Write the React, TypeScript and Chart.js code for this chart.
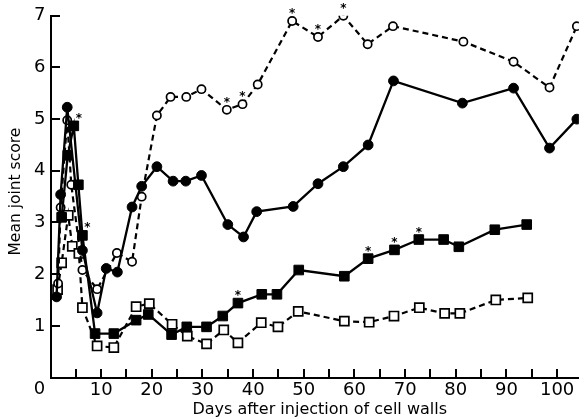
import React, { useEffect, useRef } from 'react';
import { Chart, registerables } from 'chart.js';

Chart.register(...registerables);

const FONT = 'DejaVu Sans';

// Open circles (dashed line)
const openCircleDays = [1.5, 2.0, 3.3, 4.1, 6.3, 9.2, 13.1, 16.1, 18.0, 21.0, 23.7, 26.8, 29.8, 34.8, 37.9, 40.9, 47.7, 52.8, 57.8, 62.6, 67.6, 81.5, 91.4, 98.5, 103.9];
const openCircleScores = [1.82, 3.29, 4.98, 3.73, 2.08, 1.71, 2.41, 2.24, 3.5, 5.07, 5.43, 5.43, 5.58, 5.18, 5.29, 5.67, 6.9, 6.59, 7.0, 6.45, 6.8, 6.5, 6.11, 5.61, 6.8];
const openCircleStarDays = [34.8, 37.9, 47.7, 52.8, 57.8];

// Filled circles (solid line)
const filledCircleDays = [1.2, 2.0, 3.3, 6.3, 9.2, 11.0, 13.2, 16.1, 18.0, 21.0, 24.2, 26.7, 29.8, 35.0, 38.1, 40.7, 47.9, 52.8, 57.8, 62.7, 67.7, 81.3, 91.4, 98.5, 103.9];
const filledCircleScores = [1.56, 3.54, 5.23, 2.46, 1.25, 2.11, 2.04, 3.3, 3.7, 4.08, 3.8, 3.8, 3.91, 2.96, 2.72, 3.21, 3.31, 3.75, 4.08, 4.5, 5.74, 5.31, 5.6, 4.44, 5.0];

// Filled squares (solid line)
const filledSquareDays = [2.2, 3.4, 4.6, 5.5, 6.3, 8.8, 12.5, 16.9, 19.3, 23.9, 26.9, 30.8, 34.0, 37.0, 41.7, 44.7, 49.0, 58.0, 62.7, 67.9, 72.7, 77.6, 80.6, 87.7, 94.0];
const filledSquareScores = [3.1, 4.3, 4.87, 3.73, 2.75, 0.85, 0.85, 1.11, 1.22, 0.83, 0.98, 0.98, 1.19, 1.44, 1.61, 1.61, 2.08, 1.96, 2.3, 2.47, 2.67, 2.67, 2.53, 2.86, 2.96];
const filledSquareStarDays = [4.6, 6.3, 37.0, 62.7, 67.9, 72.7];

// Open squares (dashed line)
const openSquareDays = [1.4, 2.2, 3.5, 4.3, 5.6, 6.3, 9.2, 12.5, 16.9, 19.5, 24.0, 27.0, 30.8, 34.2, 37.0, 41.6, 44.9, 48.9, 58.0, 62.9, 67.8, 72.8, 77.8, 80.8, 87.9, 94.2];
const openSquareScores = [1.7, 2.22, 3.14, 2.54, 2.4, 1.35, 0.61, 0.58, 1.37, 1.43, 1.03, 0.8, 0.65, 0.92, 0.67, 1.06, 0.98, 1.28, 1.09, 1.07, 1.19, 1.35, 1.24, 1.24, 1.5, 1.54];

const xTickStep = 5;
const xLabelStep = 10;
const xTickLast = 100;
const yTickStep = 1;
const yMax = 7;
const xTitle = 'Days after injection of cell walls';
const yTitle = 'Mean joint score';

function pts(xs: number[], ys: number[]) {
  return xs.map((x, i) => ({ x, y: ys[i] }));
}

const starMap: Record<number, number[]> = {
  1: filledSquareStarDays,
  2: openCircleStarDays,
};

const decorPlugin = {
  id: 'decor',
  afterDatasetsDraw(chart: any) {
    const ctx = chart.ctx as CanvasRenderingContext2D;
    const area = chart.chartArea;
    const xs = chart.scales.x;
    const ys = chart.scales.y;
    ctx.save();
    ctx.fillStyle = '#000';
    // inward tick marks
    const bottom = Math.round(area.bottom);
    const left = Math.round(area.left);
    for (let v = 0; v <= xTickLast; v += xTickStep) {
      const px = Math.round(xs.getPixelForValue(v));
      ctx.fillRect(px - 1, bottom - 9, 2, 9);
    }
    for (let v = yTickStep; v <= yMax; v += yTickStep) {
      const py = Math.round(ys.getPixelForValue(v));
      ctx.fillRect(left - 1, py - 1, 10, 2);
    }
    // shared origin label
    ctx.font = `18px "${FONT}"`;
    ctx.textAlign = 'center';
    ctx.textBaseline = 'middle';
    ctx.fillText('0', area.left - 11, area.bottom + 12);
    // titles
    ctx.font = `16px "${FONT}"`;
    ctx.textBaseline = 'middle';
    ctx.fillText(xTitle, (area.left + area.right) / 2 + 5, area.bottom + 32);
    ctx.save();
    ctx.translate(16, (area.top + area.bottom) / 2 - 5);
    ctx.rotate(-Math.PI / 2);
    ctx.font = `15.5px "${FONT}"`;
    ctx.fillText(yTitle, 0, 0);
    ctx.restore();
    // asterisks
    ctx.font = `bold 12px "${FONT}"`;
    ctx.textAlign = 'center';
    ctx.textBaseline = 'alphabetic';
    Object.keys(starMap).forEach((k) => {
      const di = Number(k);
      const meta = chart.getDatasetMeta(di);
      const data = chart.data.datasets[di].data as any[];
      starMap[di].forEach((day) => {
        const idx = data.findIndex((d) => d.x === day);
        if (idx < 0) return;
        const el = meta.data[idx];
        const dx = day < 10 ? 5 : 0;
        ctx.fillText('*', el.x + dx, el.y - 4);
      });
    });
    ctx.restore();
  },
};

export default function App() {
  const ref = useRef<HTMLCanvasElement>(null);
  useEffect(() => {
    const canvas = ref.current!;
    const chart = new Chart(canvas, {
      type: 'line',
      data: {
        datasets: [
          {
            data: pts(filledCircleDays, filledCircleScores),
            borderColor: '#000',
            borderWidth: 2.3,
            pointStyle: 'circle',
            pointRadius: 4.9,
            pointBackgroundColor: '#000',
            pointBorderColor: '#000',
            pointBorderWidth: 1,
          },
          {
            data: pts(filledSquareDays, filledSquareScores),
            borderColor: '#000',
            borderWidth: 2.3,
            pointStyle: 'rect',
            pointRadius: 6.8,
            pointBackgroundColor: '#000',
            pointBorderColor: '#000',
            pointBorderWidth: 1,
          },
          {
            data: pts(openCircleDays, openCircleScores),
            borderColor: '#000',
            borderWidth: 2.2,
            borderDash: [6, 4],
            pointStyle: 'circle',
            pointRadius: 4.1,
            pointBackgroundColor: '#fff',
            pointBorderColor: '#000',
            pointBorderWidth: 1.7,
          },
          {
            data: pts(openSquareDays, openSquareScores),
            borderColor: '#000',
            borderWidth: 2.2,
            borderDash: [6, 4],
            pointStyle: 'rect',
            pointRadius: 6.4,
            pointBackgroundColor: '#fff',
            pointBorderColor: '#000',
            pointBorderWidth: 1.7,
          },
        ],
      },
      options: {
        animation: false,
        responsive: false,
        devicePixelRatio: 1,
        layout: { padding: { top: 15, right: 0, left: 0, bottom: 0 } },
        elements: { line: { tension: 0 } },
        plugins: { legend: { display: false }, tooltip: { enabled: false } },
        scales: {
          x: {
            type: 'linear',
            min: 0,
            max: 104.3,
            grid: { display: false, drawTicks: false, tickLength: 0 },
            border: { display: true, color: '#000', width: 2 },
            ticks: {
              stepSize: xTickStep,
              includeBounds: false,
              autoSkip: false,
              maxRotation: 0,
              padding: 2,
              color: '#000',
              font: { family: FONT, size: 18 },
              callback: (v: any) => (v % xLabelStep === 0 && v !== 0 ? String(v) : ''),
            },
            title: { display: false },
            afterFit: (s: any) => {
              s.height = 41.5;
            },
          },
          y: {
            min: 0,
            max: yMax,
            grid: { display: false, drawTicks: false, tickLength: 0 },
            border: { display: true, color: '#000', width: 2 },
            ticks: {
              stepSize: yTickStep,
              padding: 5,
              color: '#000',
              font: { family: FONT, size: 18 },
              callback: (v: any) => (v === 0 ? '' : String(v)),
            },
            title: { display: false },
            afterFit: (s: any) => {
              s.width = 50.5;
            },
          },
        },
      },
      plugins: [decorPlugin],
    } as any);
    return () => chart.destroy();
  }, []);
  return (
    <div style={{ position: 'fixed', left: 0, top: 0, width: 587, height: 419, background: '#fff' }}>
      <canvas ref={ref} width={587} height={419} style={{ width: 587, height: 419, display: 'block' }} />
    </div>
  );
}
